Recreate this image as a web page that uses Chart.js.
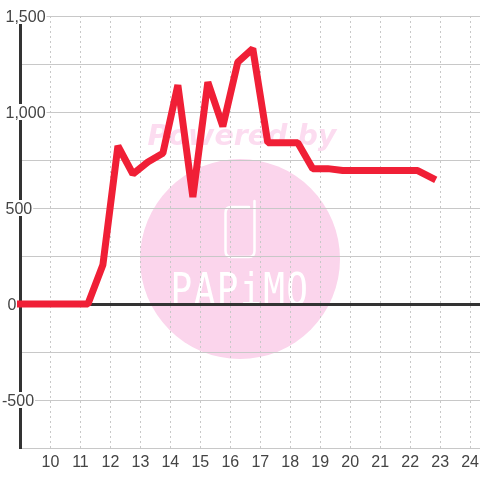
<!DOCTYPE html>
<html>
<head>
<meta charset="utf-8">
<style>
  html, body { margin: 0; padding: 0; background: #fff; }
  canvas { display: block; }
</style>
<script src="https://cdn.jsdelivr.net/npm/chart.js@4"></script>
</head>
<body>
<canvas id="chart1" width="480" height="480"></canvas>
<script>
const hours = [9, 9.25, 9.75, 10.25, 10.75, 11.25, 11.75, 12.25, 12.75, 13.25, 13.75, 14.25, 14.75, 15.25, 15.75, 16.25, 16.75, 17.25, 17.75, 18.25, 18.75, 19.25, 19.75, 20.25, 20.75, 21.25, 21.75, 22.25, 22.75];
const values = [0, 0, 0, 0, 0, 0, 205, 823, 677, 740, 785, 1140, 557, 1155, 925, 1260, 1330, 840, 840, 840, 705, 705, 695, 695, 695, 695, 695, 695, 655];
const xRange = [9, 24.33];
const yRange = [-750, 1500];
const yStep = 250;
const watermarkTitle = 'Powered by';
const watermarkName = 'PAPiMO';

const ink = '#444';
const gridColor = '#c8c8c8';
const axisColor = '#333';
const pink = '#fbd5ec';

const watermark = {
  id: 'watermark',
  beforeDraw(chart) {
    const c = chart.ctx;
    c.save();
    c.fillStyle = pink;
    c.beginPath();
    c.arc(240, 259, 100, 0, Math.PI * 2);
    c.fill();

    c.fillStyle = '#fcdcf0';
    c.font = 'italic bold 28.5px "DejaVu Sans"';
    c.textAlign = 'center';
    c.textBaseline = 'alphabetic';
    c.fillText(watermarkTitle, 242, 145);

    // phone outline
    c.strokeStyle = '#fff';
    c.lineWidth = 2.5;
    c.lineCap = 'round';
    c.beginPath();
    c.moveTo(254.5, 201);
    c.lineTo(254.5, 251);
    c.quadraticCurveTo(254.5, 257, 249, 257);
    c.lineTo(231, 257);
    c.quadraticCurveTo(225.5, 257, 225.5, 251);
    c.lineTo(225.5, 213);
    c.quadraticCurveTo(225.5, 207, 231, 207);
    c.lineTo(249, 207);
    c.stroke();

    c.fillStyle = '#fff';
    c.font = '36px "DejaVu Sans Mono"';
    c.letterSpacing = '1.5px';
    c.translate(240, 305);
    c.scale(1, 1.25);
    c.fillText(watermarkName, 0, 0);
    c.restore();
  }
};

// y labels sit across the axis on a white box
const yLabels = {
  id: 'yLabels',
  beforeDatasetsDraw(chart) {
    const c = chart.ctx;
    const scale = chart.scales.y;
    c.save();
    c.font = '16px "Liberation Sans"';
    c.textBaseline = 'middle';
    c.textAlign = 'left';
    scale.ticks.forEach(t => {
      if (t.value % 500 !== 0) return;
      const text = t.value.toLocaleString('en-US');
      const y = scale.getPixelForValue(t.value);
      const x = t.value < 0 ? 2 : t.value === 0 ? 7.5 : 5.5;
      const w = c.measureText(text).width;
      c.fillStyle = '#fff';
      c.fillRect(x - 1, y - 8, w + 2, 16);
      c.fillStyle = ink;
      c.fillText(text, x, y + 2);
    });
    c.restore();
  }
};

new Chart(document.getElementById('chart1'), {
  type: 'line',
  data: {
    datasets: [{
      data: hours.map((h, i) => ({ x: h, y: values[i] })),
      borderColor: '#f01f36',
      borderWidth: 7,
      borderCapStyle: 'square',
      borderJoinStyle: 'bevel',
      pointRadius: 0,
      tension: 0,
      clip: false
    }]
  },
  options: {
    responsive: false,
    animation: false,
    layout: { padding: { top: 16, left: 6, right: 0, bottom: 0 } },
    plugins: { legend: { display: false }, tooltip: { enabled: false } },
    scales: {
      x: {
        type: 'linear',
        min: xRange[0],
        max: xRange[1],
        afterBuildTicks: s => { s.ticks = s.ticks.filter(t => t.value > xRange[0] && Number.isInteger(t.value)); },
        afterFit: s => { s.height = 32; s.paddingRight = 0; s.paddingLeft = 0; },
        ticks: { stepSize: 1, includeBounds: false, maxRotation: 0, autoSkip: false, color: ink, font: { family: 'Liberation Sans', size: 16 }, padding: 5 },
        grid: { color: gridColor, lineWidth: 1, drawTicks: false, tickLength: 0 },
        border: { color: gridColor, width: 1, dash: [2, 3], dashOffset: 0 }
      },
      y: {
        min: yRange[0],
        max: yRange[1],
        afterFit: s => { s.width = 14.5; },
        ticks: { stepSize: yStep, display: false },
        grid: {
          color: ctx => ctx.tick.value === 0 ? axisColor : gridColor,
          lineWidth: ctx => ctx.tick.value === 0 ? 3 : 1,
          drawTicks: false
        },
        border: { color: axisColor, width: 3 }
      }
    }
  },
  plugins: [watermark, yLabels]
});
</script>
</body>
</html>
